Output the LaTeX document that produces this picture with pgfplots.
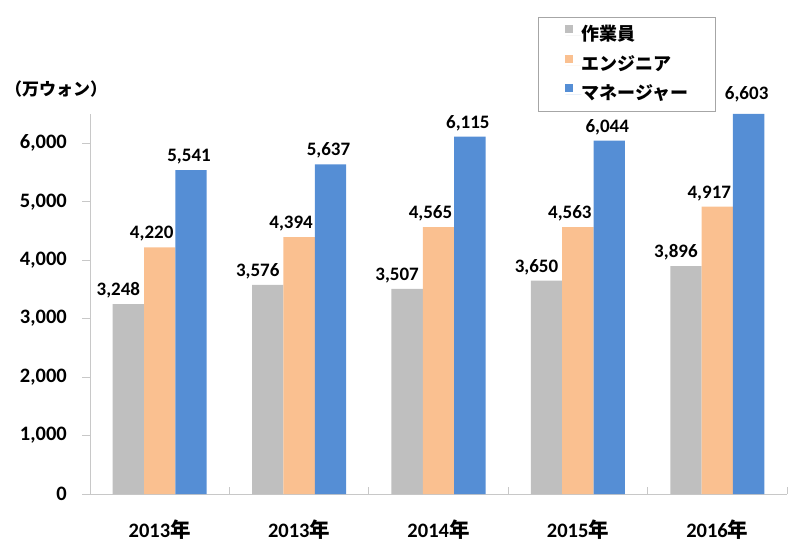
\documentclass[border=0pt]{standalone}
\usepackage{fontspec}
\setmainfont{Carlito}
\newfontfamily\jp{Noto Sans CJK JP}
\usepackage{pgfplots}
\usepackage{pgfplotstable}
\pgfplotsset{compat=1.18}
\definecolor{cgrey}{HTML}{BFBFBF}
\definecolor{corange}{HTML}{FAC090}
\definecolor{cblue}{HTML}{558ED5}
\definecolor{caxis}{HTML}{C8C8C8}
\pgfplotstableread{
x y
0 3248
1 3576
2 3507
3 3650
4 3896
}\worker
\pgfplotstableread{
x y
0 4220
1 4394
2 4565
3 4563
4 4917
}\engineer
\pgfplotstableread{
x y
0 5541
1 5637
2 6115
3 6044
4 6603
}\manager
\begin{document}
\begin{tikzpicture}
\useasboundingbox (-90bp,-55bp) rectangle (698bp,494bp);
\begin{axis}[
  scale only axis, width=697bp, height=380bp,
  xmin=-0.5, xmax=4.5, ymin=0, ymax=6500,
  clip=false,
  axis x line*=bottom, axis y line*=left,
  axis line style={-, draw=caxis, line width=0.9bp},
  tick style={draw=caxis, line width=0.9bp},
  major tick length=7.5bp,
  tick align=inside,
  ytick style={xshift=-7.5bp},
  xtick={-0.5,0.5,...,4.5},
  x tick label as interval,
  xticklabels={2013{\jp 年},2013{\jp 年},2014{\jp 年},2015{\jp 年},2016{\jp 年}},
  xticklabel style={inner sep=0pt, anchor=north, yshift=-26bp, font=\fontsize{20.5bp}{22bp}\selectfont\bfseries},
  ytick={0,1000,...,6000},
  yticklabel style={inner sep=0pt, anchor=east, xshift=-23bp, font=\fontsize{20.5bp}{22bp}\selectfont\bfseries},
  /pgf/number format/1000 sep={,},
  /pgf/number format/assume math mode=true,
  bar width=0.225,
  every node near coord/.append style={anchor=base, yshift=8.5bp, inner sep=0pt, font=\fontsize{19bp}{20bp}\selectfont\bfseries, text=black},
  legend style={at={(0.6428,1.2553)}, anchor=north west, draw=gray!70, line width=0.8bp,
    inner xsep=27bp, inner ysep=8bp, row sep=10bp,
    font=\jp\fontsize{18bp}{20bp}\selectfont\bfseries,
    nodes={inner sep=0pt, text height=14bp, text depth=4bp}},
  legend cell align=left,
  legend image code/.code={\fill[#1] (0bp,2.5bp) rectangle (8bp,10.5bp); \path (0bp,0bp) -- (16bp,0bp);},
]
% bars (the value above the axis maximum is cut at the top of the axis, as in the reference)
\addplot[ybar, bar shift=-0.225, fill=cgrey, draw=none] table[x=x,y=y] {\worker};
\addplot[ybar, bar shift=0, fill=corange, draw=none] table[x=x,y=y] {\engineer};
\addplot[ybar, bar shift=0.225, fill=cblue, draw=none, y filter/.expression={y>6500 ? 6500 : y}] table[x=x,y=y] {\manager};
\legend{作業員,エンジニア,マネージャー}
% value labels on top of all bars
\addplot[forget plot, draw=none, mark=none, nodes near coords,
  every node near coord/.append style={xshift=-10bp}] table[x expr=\thisrow{x}-0.225, y=y] {\worker};
\addplot[forget plot, draw=none, mark=none, nodes near coords,
  every node near coord/.append style={xshift=-8bp}] table[x=x, y=y] {\engineer};
\addplot[forget plot, draw=none, mark=none, nodes near coords,
  every node near coord/.append style={xshift=-2bp}] table[x expr=\thisrow{x}+0.225, y=y] {\manager};
\end{axis}
\node[anchor=west, inner sep=0pt, font=\jp\fontsize{17bp}{19bp}\selectfont\bfseries] at (-85bp,405bp) {（万ウォン）};
\end{tikzpicture}
\end{document}
